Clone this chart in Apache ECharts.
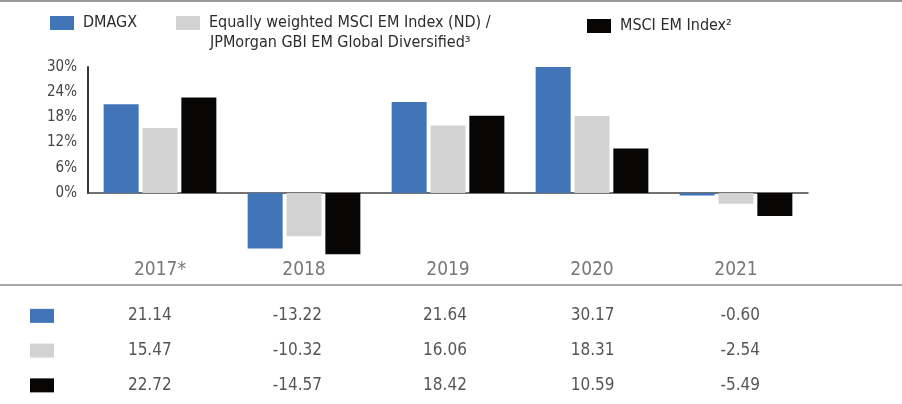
<!DOCTYPE html>
<html>
<head>
<meta charset="utf-8">
<script src="https://cdn.jsdelivr.net/npm/echarts@6/dist/echarts.min.js"></script>
<style>
html,body{margin:0;padding:0;background:#fff;}
#chart{width:902px;height:404px;}
</style>
</head>
<body>
<div id="chart"></div>
<script>
var categories = ['2017*', '2018', '2019', '2020', '2021'];
var seriesNames = ['DMAGX', 'Equally weighted MSCI EM Index (ND) / JPMorgan GBI EM Global Diversified\u00B3', 'MSCI EM Index\u00B2'];
var legendLine1 = 'Equally weighted MSCI EM Index (ND) /';
var legendLine2 = 'JPMorgan GBI EM Global Diversified\u00B3';
var dmagx = [21.14, -13.22, 21.64, 30.17, -0.60];
var equalWeighted = [15.47, -10.32, 16.06, 18.31, -2.54];
var msciEm = [22.72, -14.57, 18.42, 10.59, -5.49];
var colors = ['#4274b8', '#d2d2d2', '#070605'];
var yTicks = [0, 6, 12, 18, 24, 30];

var FONT = '"DejaVu Sans"';
var FW = 'condensed';
var allSeries = [dmagx, equalWeighted, msciEm];

var chart = echarts.init(document.getElementById('chart'), null, {renderer: 'canvas'});

var barSeries = allSeries.map(function (vals, i) {
  return {
    name: seriesNames[i],
    type: 'bar',
    xAxisIndex: 0,
    yAxisIndex: 0,
    data: vals,
    barWidth: 35,
    barGap: '11%',
    itemStyle: {color: colors[i]},
    silent: true
  };
});

var tableData = [];
allSeries.forEach(function (vals, r) {
  vals.forEach(function (v, c) {
    tableData.push([c, r, v]);
  });
});

var rich = {};
colors.forEach(function (c, i) {
  rich['s' + i] = {backgroundColor: c, width: 24, height: 14};
});

function legendCfg(idx, left, top) {
  return {
    data: [seriesNames[idx]],
    left: left,
    top: top,
    padding: 0,
    icon: 'rect',
    itemWidth: 24,
    itemHeight: 14,
    selectedMode: false,
    formatter: function (n) {
      return idx === 1 ? legendLine1 : n;
    },
    textStyle: {
      fontFamily: FONT,
      fontWeight: FW,
      fontSize: 16,
      color: '#2b2b2b',
      padding: [0, 0, 0, 4]
    }
  };
}

var option = {
  animation: false,
  backgroundColor: '#fff',
  title: {
    text: legendLine2,
    left: 210,
    top: 35,
    padding: 0,
    textStyle: {fontFamily: FONT, fontWeight: FW, fontSize: 16, color: '#2b2b2b'}
  },
  legend: [
    legendCfg(0, 50, 15),
    legendCfg(1, 176, 15),
    legendCfg(2, 587, 18)
  ],
  grid: [
    {left: 88, right: 94, top: 67, height: 201.6},
    {left: 88, right: 94, top: 67, height: 126},
    {left: 76, right: 88, top: 298.5, height: 104.25}
  ],
  xAxis: [
    {
      type: 'category', gridIndex: 0, data: categories,
      axisLine: {onZero: true, lineStyle: {color: '#444', width: 1.5}},
      axisTick: {show: false},
      axisLabel: {margin: -8, fontFamily: FONT, fontWeight: FW, fontSize: 19, color: '#777'}
    },
    {
      type: 'category', gridIndex: 1, data: categories, show: false
    },
    {
      type: 'category', gridIndex: 2, data: categories, show: false
    }
  ],
  yAxis: [
    {
      type: 'value', gridIndex: 0, min: -18, max: 30, interval: 6,
      show: false
    },
    {
      type: 'value', gridIndex: 1, min: 0, max: 30, interval: 6,
      axisLine: {show: true, lineStyle: {color: '#333', width: 2}},
      axisTick: {show: false},
      splitLine: {show: false},
      axisLabel: {
        margin: 11, fontFamily: FONT, fontWeight: FW, fontSize: 15, color: '#444',
        formatter: function (v) { return yTicks.indexOf(v) >= 0 ? v + '%' : ''; }
      }
    },
    {
      type: 'category', gridIndex: 2, inverse: true, data: seriesNames,
      axisLine: {show: false}, axisTick: {show: false},
      axisLabel: {
        margin: 22,
        formatter: function (v, i) { return '{s' + i + '| }'; },
        rich: rich
      }
    }
  ],
  series: barSeries.concat([{
    type: 'scatter',
    xAxisIndex: 2,
    yAxisIndex: 2,
    data: tableData,
    symbolSize: 1,
    silent: true,
    itemStyle: {color: 'rgba(0,0,0,0)'},
    label: {
      show: true,
      position: 'inside',
      fontFamily: FONT,
      fontWeight: FW,
      fontSize: 17,
      color: '#2b2b2b',
      formatter: function (p) { return p.value[2].toFixed(2); }
    }
  }]),
  graphic: [
    {type: 'line', shape: {x1: 0, y1: 1, x2: 902, y2: 1}, style: {stroke: '#999', lineWidth: 2}, silent: true},
    {type: 'line', shape: {x1: 0, y1: 285, x2: 902, y2: 285}, style: {stroke: '#8c8c8c', lineWidth: 1.5}, silent: true}
  ]
};

chart.setOption(option);
</script>
</body>
</html>
